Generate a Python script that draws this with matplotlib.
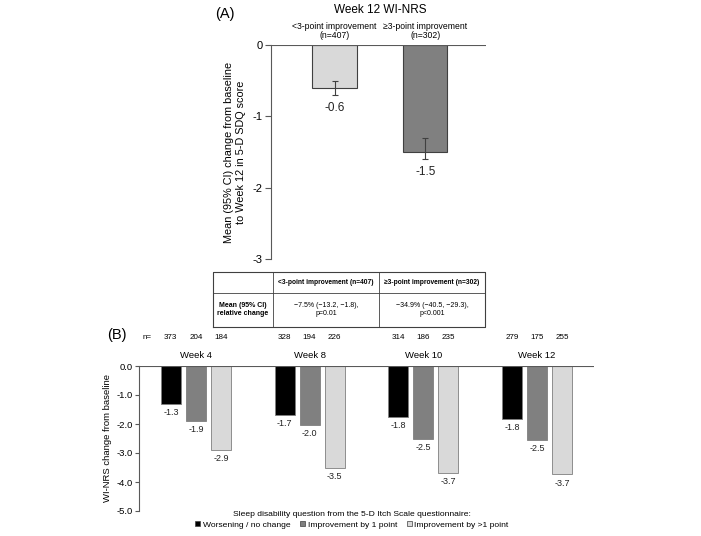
import matplotlib
matplotlib.use("Agg")
import matplotlib.pyplot as plt
import numpy as np
from matplotlib.patches import Patch
from matplotlib.transforms import blended_transform_factory

plt.rcParams['font.family'] = ['Liberation Sans', 'DejaVu Sans']
plt.rcParams['axes.unicode_minus'] = False

# ---------------- Panel A data ----------------
a_title = "Week 12 WI-NRS"
a_categories = ["<3-point improvement\n(n=407)", "\u22653-point improvement\n(n=302)"]
a_means = [-0.6, -1.5]
a_ci_low = [-0.7, -1.6]
a_ci_high = [-0.5, -1.3]
a_colors = ["#d9d9d9", "#808080"]
a_yticks = [0, -1, -2, -3]

# ---------------- Table data ----------------
table_header = ["", "<3-point improvement (n=407)", "\u22653-point improvement (n=302)"]
table_row = ["Mean (95% CI)\nrelative change",
             "\u22127.5% (\u221213.2, \u22121.8),\np=0.01",
             "\u221234.9% (\u221240.5, \u221229.3),\np<0.001"]

# ---------------- Panel B data ----------------
b_weeks = ["Week 4", "Week 8", "Week 10", "Week 12"]
b_series = ["Worsening / no change", "Improvement by 1 point", "Improvement by >1 point"]
b_worse = [-1.32, -1.69, -1.76, -1.83]
b_impr1 = [-1.90, -2.04, -2.50, -2.54]
b_impr2 = [-2.88, -3.52, -3.68, -3.74]
b_worse_lbl = ["-1.3", "-1.7", "-1.8", "-1.8"]
b_impr1_lbl = ["-1.9", "-2.0", "-2.5", "-2.5"]
b_impr2_lbl = ["-2.9", "-3.5", "-3.7", "-3.7"]
b_n_worse = [373, 328, 314, 279]
b_n_impr1 = [204, 194, 186, 175]
b_n_impr2 = [184, 226, 235, 255]
b_colors = ["#000000", "#808080", "#d9d9d9"]
b_yticks = [0.0, -1.0, -2.0, -3.0, -4.0, -5.0]

W, H = 701, 536
fig = plt.figure(figsize=(W / 100, H / 100), dpi=100)

def fx(px):
    return px / W

def fy(py):
    return 1 - py / H

spine_col = "#595959"

# ---------------- Panel A ----------------
axA = fig.add_axes([fx(271), fy(259), fx(486) - fx(271), fy(45) - fy(259)])
xa = np.arange(len(a_means))
means = np.array(a_means)
yerr = np.vstack([means - np.array(a_ci_low), np.array(a_ci_high) - means])
axA.bar(xa, means, width=0.49, color=a_colors, edgecolor="#404040", linewidth=0.8, zorder=2)
axA.errorbar(xa, means, yerr=yerr, fmt="none", ecolor="#404040", elinewidth=0.8, capsize=2, capthick=0.8, zorder=3)
for x, m, lo in zip(xa, a_means, a_ci_low):
    axA.annotate(f"{m:.1f}", (x, lo), xytext=(0, -5), textcoords="offset points",
                 ha="center", va="top", fontsize=8.5, color="#222222")
axA.set_xlim(-0.7, 1.67)
axA.set_ylim(-3, 0)
axA.set_yticks(a_yticks)
axA.set_yticklabels([str(t) for t in a_yticks])
axA.tick_params(axis="y", labelsize=8, length=4, color=spine_col, width=0.8, pad=2)
axA.set_xticks([])
for s in ["top", "right", "bottom"]:
    axA.spines[s].set_visible(False)
axA.spines["left"].set_color(spine_col)
axA.spines["left"].set_linewidth(0.8)
axA.axhline(0, color=spine_col, lw=0.8, zorder=4)
axA.set_ylabel("Mean (95% CI) change from baseline\nto Week 12 in 5-D SDQ score", fontsize=7.8, labelpad=5)
for x, c in zip(xa, a_categories):
    axA.text(x, 1.022, c, transform=blended_transform_factory(axA.transData, axA.transAxes),
             ha="center", va="bottom", fontsize=6.2, linespacing=1.1)
fig.text(fx(380), fy(10), a_title, ha="center", va="center", fontsize=8.5)
fig.text(fx(215), fy(14), "(A)", ha="left", va="center", fontsize=10.5)

# ---------------- Table ----------------
axT = fig.add_axes([fx(213), fy(327), fx(485) - fx(213), fy(272) - fy(327)])
axT.set_xlim(0, 1)
axT.set_ylim(0, 1)
axT.axis("off")
col_edges = [0, 0.22, 0.61, 1]
row_split = 0.62
lc = "#404040"
axT.plot([0, 1, 1, 0, 0], [0, 0, 1, 1, 0], color=lc, lw=0.8, clip_on=False)
axT.plot([0, 1], [row_split, row_split], color=lc, lw=0.6)
for c in col_edges[1:-1]:
    axT.plot([c, c], [0, 1], color=lc, lw=0.6)
for i, txt in enumerate(table_header):
    cx = (col_edges[i] + col_edges[i + 1]) / 2
    axT.text(cx, (1 + row_split) / 2, txt, ha="center", va="center", fontsize=4.8, fontweight="bold")
for i, txt in enumerate(table_row):
    cx = (col_edges[i] + col_edges[i + 1]) / 2
    axT.text(cx, row_split / 2, txt, ha="center", va="center", fontsize=5.0,
             fontweight="bold" if i == 0 else "normal", linespacing=1.2)

# ---------------- Panel B ----------------
axB = fig.add_axes([fx(139), fy(511), fx(594) - fx(139), fy(366) - fy(511)])
xb = np.arange(len(b_weeks))
bw = 0.176
offs = [-0.22, 0.0, 0.22]
series_vals = [b_worse, b_impr1, b_impr2]
series_lbls = [b_worse_lbl, b_impr1_lbl, b_impr2_lbl]
series_n = [b_n_worse, b_n_impr1, b_n_impr2]
trans = blended_transform_factory(axB.transData, axB.transAxes)
for vals, lbls, ns, off, col in zip(series_vals, series_lbls, series_n, offs, b_colors):
    axB.bar(xb + off, vals, width=bw, color=col, edgecolor="#7f7f7f", linewidth=0.6, zorder=2)
    for x, v, l, n in zip(xb + off, vals, lbls, ns):
        axB.annotate(l, (x, v), xytext=(0, -3), textcoords="offset points",
                     ha="center", va="top", fontsize=6.5, color="#222222")
        axB.text(x, 1.2, str(n), transform=trans, ha="center", va="center", fontsize=5.8)
for x, wk in zip(xb, b_weeks):
    axB.text(x, 1.07, wk, transform=trans, ha="center", va="center", fontsize=6.8)
axB.text(-0.43, 1.2, "n=", transform=trans, ha="center", va="center", fontsize=5.8)
axB.set_xlim(-0.5, 3.5)
axB.set_ylim(-5, 0)
axB.set_yticks(b_yticks)
axB.set_yticklabels([f"{t:.1f}" for t in b_yticks])
axB.tick_params(axis="y", labelsize=6.8, length=3, color=spine_col, width=0.8, pad=1.5)
axB.set_xticks([])
for s in ["top", "right", "bottom"]:
    axB.spines[s].set_visible(False)
axB.spines["left"].set_color(spine_col)
axB.spines["left"].set_linewidth(0.8)
axB.axhline(0, color=spine_col, lw=0.8, zorder=4)
axB.set_ylabel("WI-NRS change from baseline", fontsize=6.8, labelpad=3)
fig.text(fx(107), fy(335), "(B)", ha="left", va="center", fontsize=10.5)

handles = [Patch(facecolor=c, edgecolor="#404040", linewidth=0.5) for c in b_colors]
leg = fig.legend(handles, b_series, loc="center", bbox_to_anchor=(fx(352), fy(520)), ncol=3,
                 frameon=False, fontsize=6.1, handlelength=0.6, handleheight=0.6,
                 handletextpad=0.25, columnspacing=1.2, borderpad=0,
                 title="Sleep disability question from the 5-D Itch Scale questionnaire:",
                 title_fontsize=6.1)
leg._legend_box.sep = 2

fig.savefig("out.png", dpi=100)
